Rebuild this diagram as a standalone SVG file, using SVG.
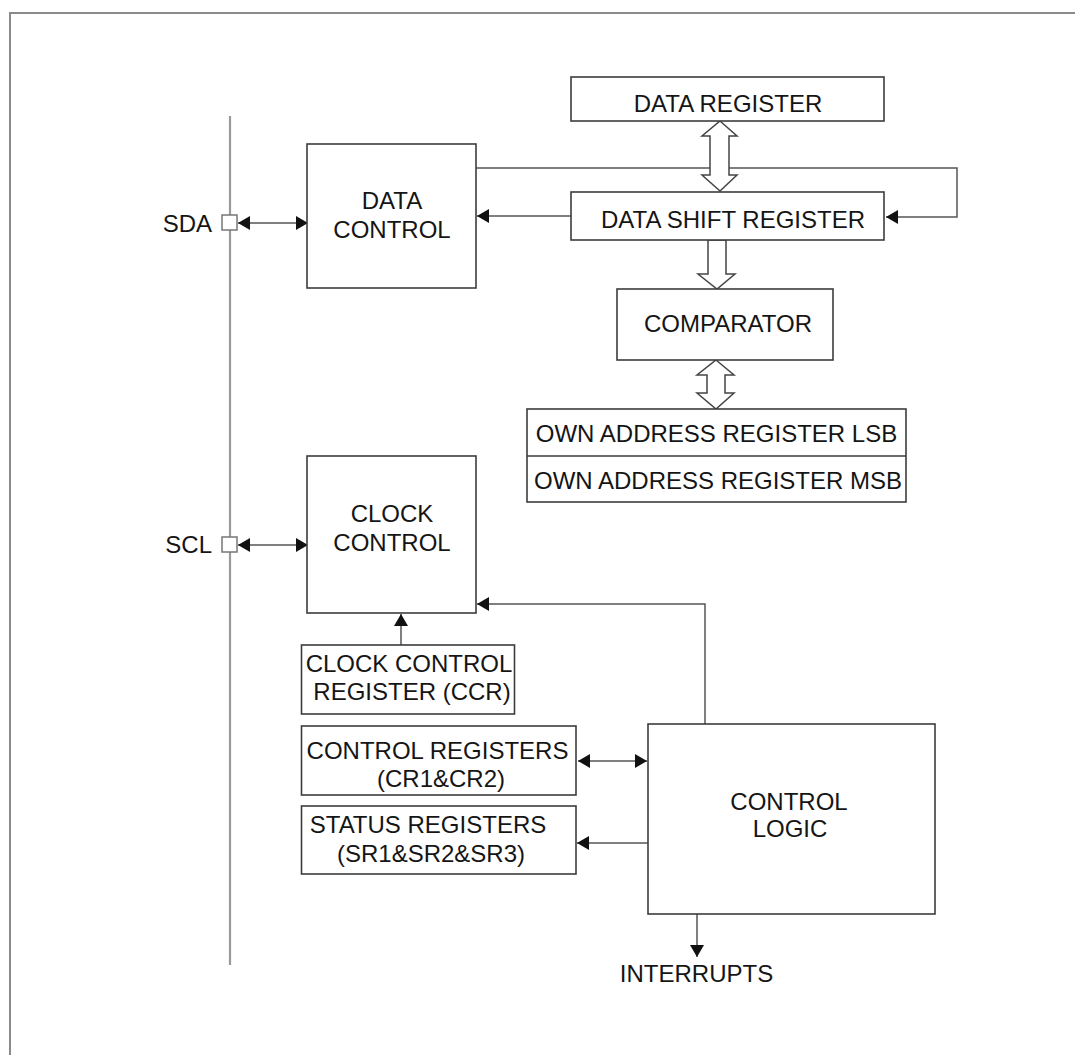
<svg xmlns="http://www.w3.org/2000/svg" width="1075" height="1055" viewBox="0 0 1075 1055">
<style>
.box{fill:#fff;stroke:#3c3c3c;stroke-width:1.6}
.t{font-family:"Liberation Sans",Arial,sans-serif;font-size:24px;fill:#151515;text-anchor:middle}
.tr{font-family:"Liberation Sans",Arial,sans-serif;font-size:24px;fill:#151515;text-anchor:end}
.ln{fill:none;stroke:#555;stroke-width:1.5}
.hol{fill:#fff;stroke:#444;stroke-width:1.5;stroke-linejoin:miter}
.pin{fill:#fff;stroke:#777;stroke-width:1.5}
</style>
<defs>
<marker id="ah" viewBox="0 0 12 14" refX="12" refY="7" markerWidth="12" markerHeight="14" markerUnits="userSpaceOnUse" orient="auto-start-reverse">
<path d="M0,0 L12,7 L0,14 Z" fill="#111"/>
</marker>
</defs>
<rect width="1075" height="1055" fill="#fff"/>
<path d="M10,1055 V13 H1075" fill="none" stroke="#8a8a8a" stroke-width="2"/>
<line x1="230" y1="116" x2="230" y2="965" stroke="#9a9a9a" stroke-width="2.2"/>

<g id="connectors">
<line class="ln" x1="238" y1="223" x2="308" y2="223" marker-start="url(#ah)" marker-end="url(#ah)"/>
<line class="ln" x1="238" y1="545" x2="308" y2="545" marker-start="url(#ah)" marker-end="url(#ah)"/>
<polyline class="ln" points="476,168 957,168 957,217 886,217" marker-end="url(#ah)"/>
<line class="ln" x1="571" y1="216" x2="477" y2="216" marker-end="url(#ah)"/>
<polyline class="ln" points="705,724 705,604 477,604" marker-end="url(#ah)"/>
<line class="ln" x1="401" y1="645" x2="401" y2="614" marker-end="url(#ah)"/>
<line class="ln" x1="578" y1="761" x2="647" y2="761" marker-start="url(#ah)" marker-end="url(#ah)"/>
<line class="ln" x1="652" y1="843" x2="577" y2="843" marker-end="url(#ah)"/>
<line class="ln" x1="697" y1="914" x2="697" y2="957" marker-end="url(#ah)"/>
<polygon class="hol" points="720,121 737,136 729,136 729,175 737,175 720,191 702,175 710,175 710,136 702,136"/>
<polygon class="hol" points="708,240 726,240 726,274 735,274 717,289 698,274 708,274"/>
<polygon class="hol" points="716,360 734,375 725,375 725,393 734,393 716,409 697,393 707,393 707,375 697,375"/>
</g>

<g id="sda">
<rect class="pin" x="222" y="215" width="15" height="15"/>
<text class="tr" x="212" y="232">SDA</text>
</g>
<g id="scl">
<rect class="pin" x="222" y="537" width="15" height="15"/>
<text class="tr" x="212" y="553">SCL</text>
</g>

<g id="data-register">
<rect class="box" x="571" y="77" width="313" height="44"/>
<text class="t" x="728" y="112">DATA REGISTER</text>
</g>
<g id="data-control">
<rect class="box" x="307" y="144" width="169" height="144"/>
<text class="t" x="392" y="209">DATA</text>
<text class="t" x="392" y="238">CONTROL</text>
</g>
<g id="data-shift-register">
<rect class="box" x="571" y="192" width="313" height="48"/>
<text class="t" x="733" y="228">DATA SHIFT REGISTER</text>
</g>
<g id="comparator">
<rect class="box" x="617" y="289" width="216" height="71"/>
<text class="t" x="728" y="332">COMPARATOR</text>
</g>
<g id="own-address-register">
<rect class="box" x="527" y="409" width="379" height="93"/>
<line x1="527" y1="456" x2="906" y2="456" stroke="#3c3c3c" stroke-width="1.6"/>
<text class="t" x="716.5" y="442">OWN ADDRESS REGISTER LSB</text>
<text class="t" x="718" y="489">OWN ADDRESS REGISTER MSB</text>
</g>
<g id="clock-control">
<rect class="box" x="307" y="456" width="169" height="157"/>
<text class="t" x="392" y="522">CLOCK</text>
<text class="t" x="392" y="551">CONTROL</text>
</g>
<g id="ccr">
<rect class="box" x="301.5" y="645" width="213" height="69"/>
<text class="t" x="409" y="672">CLOCK CONTROL</text>
<text class="t" x="412" y="700">REGISTER (CCR)</text>
</g>
<g id="control-registers">
<rect class="box" x="301.5" y="726" width="274.5" height="69"/>
<text class="t" x="437.5" y="759">CONTROL REGISTERS</text>
<text class="t" x="441" y="787">(CR1&amp;CR2)</text>
</g>
<g id="status-registers">
<rect class="box" x="301.5" y="806" width="274.5" height="68"/>
<text class="t" x="428" y="833">STATUS REGISTERS</text>
<text class="t" x="431" y="862">(SR1&amp;SR2&amp;SR3)</text>
</g>
<g id="control-logic">
<rect class="box" x="648" y="724" width="287" height="190"/>
<text class="t" x="789" y="810">CONTROL</text>
<text class="t" x="790" y="837">LOGIC</text>
</g>
<g id="interrupts">
<text class="t" x="696.5" y="982">INTERRUPTS</text>
</g>
</svg>
